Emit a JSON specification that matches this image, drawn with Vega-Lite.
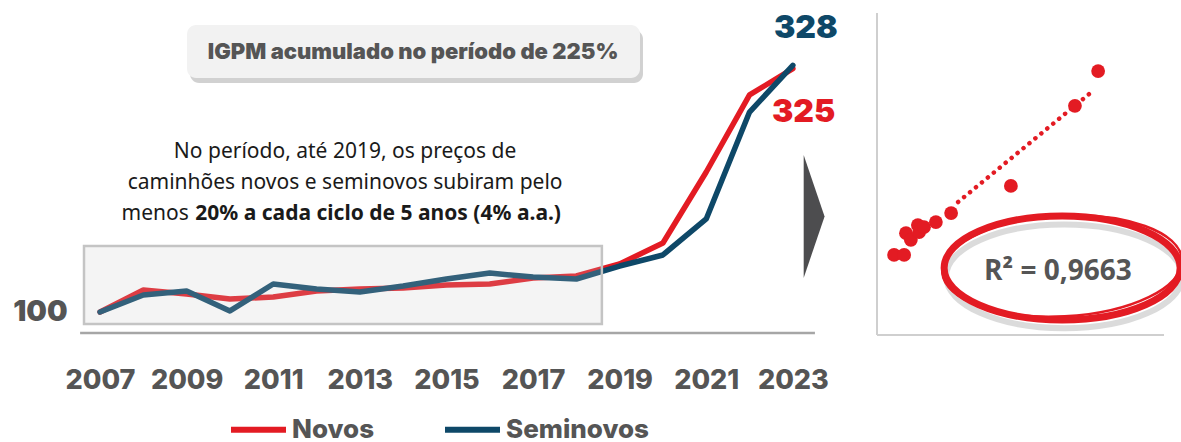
{
  "$schema": "https://vega.github.io/schema/vega-lite/v6.json",
  "padding": 0,
  "background": "white",
  "config": {"view": {"stroke": null}, "concat": {"spacing": 26}},
  "datasets": {
    "series": [
      {"ano": 2007, "serie": "Novos", "valor": 100},
      {"ano": 2008, "serie": "Novos", "valor": 120.3},
      {"ano": 2009, "serie": "Novos", "valor": 116.6},
      {"ano": 2010, "serie": "Novos", "valor": 112},
      {"ano": 2011, "serie": "Novos", "valor": 113.9},
      {"ano": 2012, "serie": "Novos", "valor": 119.4},
      {"ano": 2013, "serie": "Novos", "valor": 121.3},
      {"ano": 2014, "serie": "Novos", "valor": 122.2},
      {"ano": 2015, "serie": "Novos", "valor": 125},
      {"ano": 2016, "serie": "Novos", "valor": 125.9},
      {"ano": 2017, "serie": "Novos", "valor": 131.4},
      {"ano": 2018, "serie": "Novos", "valor": 133.3},
      {"ano": 2019, "serie": "Novos", "valor": 144.4},
      {"ano": 2020, "serie": "Novos", "valor": 163.8},
      {"ano": 2021, "serie": "Novos", "valor": 229.4},
      {"ano": 2022, "serie": "Novos", "valor": 300.6},
      {"ano": 2023, "serie": "Novos", "valor": 325},
      {"ano": 2007, "serie": "Seminovos", "valor": 100},
      {"ano": 2008, "serie": "Seminovos", "valor": 115.7},
      {"ano": 2009, "serie": "Seminovos", "valor": 119.4},
      {"ano": 2010, "serie": "Seminovos", "valor": 101},
      {"ano": 2011, "serie": "Seminovos", "valor": 125.9},
      {"ano": 2012, "serie": "Seminovos", "valor": 121.3},
      {"ano": 2013, "serie": "Seminovos", "valor": 118.5},
      {"ano": 2014, "serie": "Seminovos", "valor": 124},
      {"ano": 2015, "serie": "Seminovos", "valor": 130.5},
      {"ano": 2016, "serie": "Seminovos", "valor": 136},
      {"ano": 2017, "serie": "Seminovos", "valor": 132.3},
      {"ano": 2018, "serie": "Seminovos", "valor": 130.5},
      {"ano": 2019, "serie": "Seminovos", "valor": 142.5},
      {"ano": 2020, "serie": "Seminovos", "valor": 152.7},
      {"ano": 2021, "serie": "Seminovos", "valor": 186},
      {"ano": 2022, "serie": "Seminovos", "valor": 284.8},
      {"ano": 2023, "serie": "Seminovos", "valor": 328}
    ],
    "scatter": [
      {"a": 5.6, "b": 23.9},
      {"a": 8.9, "b": 23.9},
      {"a": 9.5, "b": 30.4},
      {"a": 11.1, "b": 28.4},
      {"a": 13.4, "b": 32.8},
      {"a": 13.8, "b": 30.7},
      {"a": 15.4, "b": 32.2},
      {"a": 19.3, "b": 33.7},
      {"a": 24.3, "b": 36.4},
      {"a": 43.9, "b": 44.5},
      {"a": 64.9, "b": 68.4},
      {"a": 72.5, "b": 78.8}
    ],
    "trend": [
      {"a": 26.6, "b": 39.7},
      {"a": 71.1, "b": 73.1}
    ]
  },
  "hconcat": [
    {
      "width": 850,
      "height": 333,
      "layer": [
        {
          "data": {"name": "series"},
          "mark": {"type": "line", "strokeWidth": 5.5, "strokeCap": "round", "strokeJoin": "round"},
          "encoding": {
            "x": {"field": "ano", "type": "quantitative", "title": null, "scale": {"domain": [2004.69, 2024.32], "nice": false, "zero": false}, "axis": {"values": [2007, 2009, 2011, 2013, 2015, 2017, 2019, 2021, 2023], "format": "d", "title": null, "domain": false, "ticks": false, "grid": false, "labelFont": "Inter", "labelFontWeight": 800, "labelFontSize": 27, "labelColor": "#555555", "labelPadding": 34}},
            "y": {"field": "valor", "type": "quantitative", "scale": {"domain": [80.6, 388.35], "nice": false, "zero": false}, "axis": null},
            "color": {
              "field": "serie", "type": "nominal",
              "scale": {"domain": ["Novos", "Seminovos"], "range": ["#e31b23", "#0e4868"]},
              "legend": {"title": null, "orient": "none", "legendX": 228, "legendY": 399, "direction": "horizontal", "symbolType": "stroke", "symbolStrokeWidth": 6, "symbolSize": 3025, "labelFont": "Inter", "labelFontWeight": 800, "labelFontSize": 26, "labelColor": "#555555", "labelOffset": 3, "columnPadding": 58}
            }
          }
        },
        {
          "data": {"values": [{"x1": 2009.01, "x2": 2019.47, "y1": 365.2, "y2": 316.3}]},
          "mark": {"type": "rect", "fill": "#9a9a9a", "opacity": 0.45, "cornerRadius": 9, "xOffset": 3, "yOffset": 5, "x2Offset": 3, "y2Offset": 5},
          "encoding": {
            "x": {"field": "x1", "type": "quantitative"},
            "x2": {"field": "x2"},
            "y": {"field": "y1", "type": "quantitative", "axis": null},
            "y2": {"field": "y2"}
          }
        },
        {
          "data": {"values": [{"x1": 2009.01, "x2": 2019.47, "y1": 365.2, "y2": 316.3}]},
          "mark": {"type": "rect", "fill": "#f2f2f2", "cornerRadius": 9},
          "encoding": {
            "x": {"field": "x1", "type": "quantitative"},
            "x2": {"field": "x2"},
            "y": {"field": "y1", "type": "quantitative", "axis": null},
            "y2": {"field": "y2"}
          }
        },
        {
          "data": {"values": [{"x": 2014.23, "y": 340.3, "t": "IGPM acumulado no período de 225%"}]},
          "mark": {"type": "text", "font": "Inter", "fontWeight": 900, "fontSize": 22, "color": "#555555", "align": "center", "baseline": "middle"},
          "encoding": {
            "x": {"field": "x", "type": "quantitative"},
            "y": {"field": "y", "type": "quantitative", "axis": null},
            "text": {"field": "t"}
          }
        },
        {
          "data": {"values": [{"x1": 2006.63, "x2": 2018.59, "y1": 161.0, "y2": 88.9}]},
          "mark": {"type": "rect", "fill": "#c8c8c8", "fillOpacity": 0.2, "stroke": "#c4c4c4", "strokeWidth": 2.5},
          "encoding": {
            "x": {"field": "x1", "type": "quantitative"},
            "x2": {"field": "x2"},
            "y": {"field": "y1", "type": "quantitative", "axis": null},
            "y2": {"field": "y2"}
          }
        },
        {
          "data": {"values": [{"x1": 2006.54, "x2": 2023.51, "y": 80.6}]},
          "mark": {"type": "rule", "stroke": "#a6a6a6", "strokeWidth": 2.5},
          "encoding": {
            "x": {"field": "x1", "type": "quantitative"},
            "x2": {"field": "x2"},
            "y": {"field": "y", "type": "quantitative", "axis": null}
          }
        },
        {
          "data": {"values": [{"x": 2006.25, "y": 100, "t": "100"}]},
          "mark": {"type": "text", "font": "Inter", "fontWeight": 900, "fontSize": 29, "color": "#555555", "align": "right", "baseline": "middle"},
          "encoding": {
            "x": {"field": "x", "type": "quantitative"},
            "y": {"field": "y", "type": "quantitative", "axis": null},
            "text": {"field": "t"}
          }
        },
        {
          "data": {"values": [
            {"x": 2023.30, "y": 362.9, "t": "328", "c": "#0e4868"},
            {"x": 2023.25, "y": 285.3, "t": "325", "c": "#e31b23"}
          ]},
          "mark": {"type": "text", "font": "Inter", "fontWeight": 900, "fontSize": 32, "align": "center", "baseline": "middle"},
          "encoding": {
            "x": {"field": "x", "type": "quantitative"},
            "y": {"field": "y", "type": "quantitative", "axis": null},
            "text": {"field": "t"},
            "color": {"field": "c", "type": "nominal", "scale": null}
          }
        },
        {
          "data": {"values": [
            {"x": 2012.66, "y": 247.9, "t": "No período, até 2019, os preços de"},
            {"x": 2012.66, "y": 219.2, "t": "caminhões novos e seminovos subiram pelo"}
          ]},
          "mark": {"type": "text", "font": "Noto Sans", "fontSize": 21, "color": "#1a1a1a", "align": "center", "baseline": "middle"},
          "encoding": {
            "x": {"field": "x", "type": "quantitative"},
            "y": {"field": "y", "type": "quantitative", "axis": null},
            "text": {"field": "t"}
          }
        },
        {
          "data": {"values": [{"x": 2009.05, "y": 190.6, "t": "menos"}]},
          "mark": {"type": "text", "font": "Noto Sans", "fontSize": 21, "color": "#1a1a1a", "align": "right", "baseline": "middle"},
          "encoding": {
            "x": {"field": "x", "type": "quantitative"},
            "y": {"field": "y", "type": "quantitative", "axis": null},
            "text": {"field": "t"}
          }
        },
        {
          "data": {"values": [{"x": 2009.2, "y": 190.6, "t": "20% a cada ciclo de 5 anos (4% a.a.)"}]},
          "mark": {"type": "text", "font": "Noto Sans", "fontWeight": "bold", "fontSize": 21, "color": "#1a1a1a", "align": "left", "baseline": "middle"},
          "encoding": {
            "x": {"field": "x", "type": "quantitative"},
            "y": {"field": "y", "type": "quantitative", "axis": null},
            "text": {"field": "t"}
          }
        },
        {
          "data": {"values": [{"x": 2023.25, "y": 188.3}]},
          "mark": {"type": "point", "shape": "M0,-1L0.34,0L0,1Z", "filled": true, "fill": "#4d4d4f", "opacity": 1, "size": 15129},
          "encoding": {
            "x": {"field": "x", "type": "quantitative"},
            "y": {"field": "y", "type": "quantitative", "axis": null}
          }
        }
      ]
    },
    {
      "width": 305,
      "height": 335,
      "layer": [
        {
          "data": {"values": [{"a1": 0, "a2": 0, "b1": 0, "b2": 96.1}, {"a1": 0, "a2": 94.1, "b1": 0, "b2": 0}]},
          "mark": {"type": "rule", "stroke": "#cfcfcf", "strokeWidth": 2},
          "encoding": {
            "x": {"field": "a1", "type": "quantitative", "scale": {"domain": [0, 100], "nice": false}, "axis": null},
            "x2": {"field": "a2"},
            "y": {"field": "b1", "type": "quantitative", "scale": {"domain": [0, 100], "nice": false}, "axis": null},
            "y2": {"field": "b2"}
          }
        },
        {
          "data": {"name": "trend"},
          "mark": {"type": "line", "stroke": "#e31b23", "strokeWidth": 4.5, "strokeCap": "round", "strokeDash": [0.1, 7.6]},
          "encoding": {
            "x": {"field": "a", "type": "quantitative", "axis": null},
            "y": {"field": "b", "type": "quantitative", "axis": null}
          }
        },
        {
          "data": {"name": "scatter"},
          "mark": {"type": "circle", "color": "#e31b23", "opacity": 1, "size": 190},
          "encoding": {
            "x": {"field": "a", "type": "quantitative", "axis": null},
            "y": {"field": "b", "type": "quantitative", "axis": null}
          }
        },
        {
          "data": {"values": [{"a": 60.7, "b": 19.0}]},
          "mark": {"type": "point", "shape": "M-1,0A1,0.44,0,1,1,1,0A1,0.44,0,1,1,-1,0Z", "filled": false, "stroke": "#9a9a9a", "strokeWidth": 6, "opacity": 0.35, "size": 55696, "yOffset": 5, "xOffset": 2},
          "encoding": {
            "x": {"field": "a", "type": "quantitative", "axis": null},
            "y": {"field": "b", "type": "quantitative", "axis": null}
          }
        },
        {
          "data": {"values": [{"a": 60.7, "b": 20.0}]},
          "mark": {"type": "point", "shape": "M-1,0A1,0.44,0,1,1,1,0A1,0.44,0,1,1,-1,0Z", "filled": false, "stroke": "#e31b23", "strokeWidth": 7, "opacity": 1, "size": 55696},
          "encoding": {
            "x": {"field": "a", "type": "quantitative", "axis": null},
            "y": {"field": "b", "type": "quantitative", "axis": null}
          }
        },
        {
          "data": {"values": [{"a": 60.7, "b": 20.6}]},
          "mark": {"type": "point", "shape": "M-1,0A1,0.42,0,1,1,1,0A1,0.42,0,1,1,-1,0Z", "filled": false, "stroke": "#e31b23", "strokeWidth": 2.5, "opacity": 1, "size": 57600, "angle": -3},
          "encoding": {
            "x": {"field": "a", "type": "quantitative", "axis": null},
            "y": {"field": "b", "type": "quantitative", "axis": null}
          }
        },
        {
          "data": {"values": [{"a": 59.3, "b": 18.8, "t": "R² = 0,9663"}]},
          "mark": {"type": "text", "font": "Open Sans", "fontWeight": "bold", "fontSize": 28, "color": "#555555", "align": "center", "baseline": "middle"},
          "encoding": {
            "x": {"field": "a", "type": "quantitative", "axis": null},
            "y": {"field": "b", "type": "quantitative", "axis": null},
            "text": {"field": "t"}
          }
        }
      ]
    }
  ]
}
